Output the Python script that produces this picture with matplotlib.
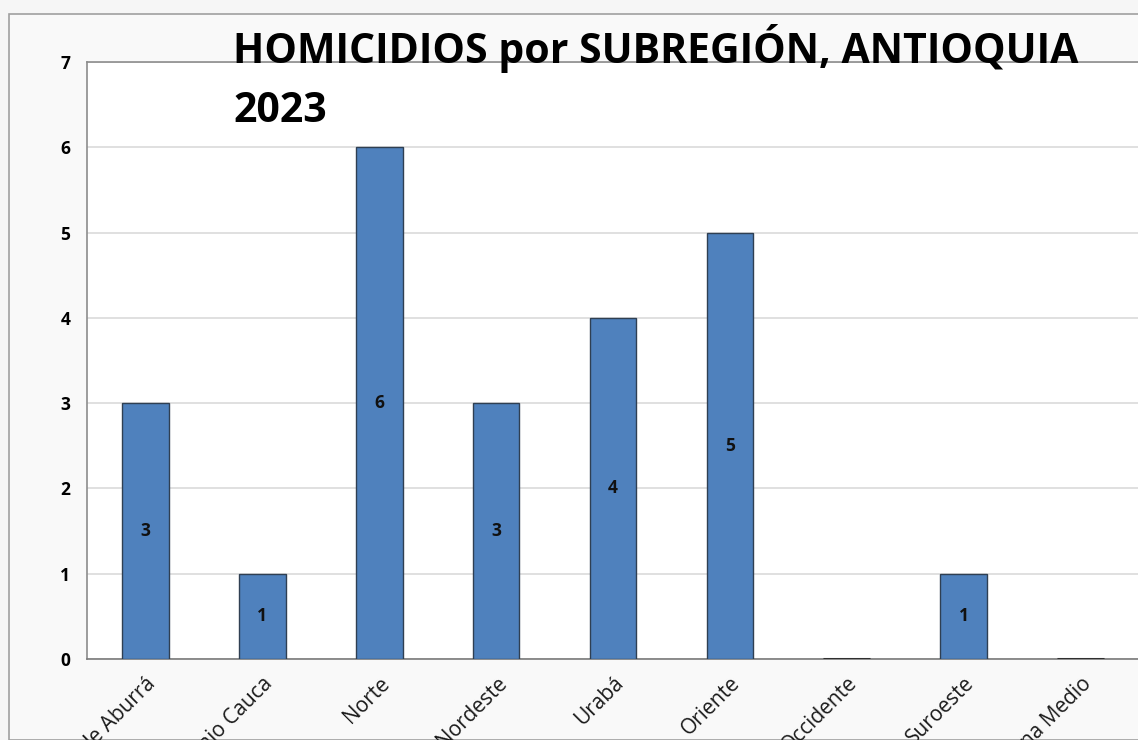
import matplotlib
matplotlib.use("Agg")
import matplotlib.pyplot as plt
from matplotlib.patches import Rectangle

# Homicidios por subregión, Antioquia 2023
subregiones = ["Valle de Aburrá", "Bajo Cauca", "Norte", "Nordeste", "Urabá",
               "Oriente", "Occidente", "Suroeste", "Magdalena Medio"]
homicidios = [3, 1, 6, 3, 4, 5, 0, 1, 0]
y_ticks = [0, 1, 2, 3, 4, 5, 6, 7]

W, H = 1138, 740
fig = plt.figure(figsize=(W / 100, H / 100), dpi=100)
fig.patch.set_facecolor("#f6f6f6")

# chart-area frame
frame = Rectangle((9 / W, 0), 1.0, 1 - 14 / H, transform=fig.transFigure,
                  facecolor="#f9f9f9", edgecolor="#a0a0a0", linewidth=1.2,
                  zorder=-5)
fig.patches.append(frame)

left, right = 87 / W, 1139 / W
bottom, top = 1 - 659 / H, 1 - 62 / H
ax = fig.add_axes([left, bottom, right - left, top - bottom])
ax.set_zorder(2)
ax.set_facecolor("white")

x = list(range(len(subregiones)))
bars = ax.bar(x, homicidios, width=0.4, color="#4f81bd", edgecolor="#2f3f52",
              linewidth=1.0, zorder=3)
for xi, v in zip(x, homicidios):
    if v > 0:
        ax.text(xi, v / 2, str(v), ha="center", va="center", fontsize=12.5,
                fontweight="bold", family="Open Sans", color="#111111", zorder=4)
    else:
        ax.plot([xi - 0.2, xi + 0.2], [0, 0], color="#2f2f2f", linewidth=2.2,
                zorder=4, solid_capstyle="butt")

ax.set_xlim(-0.5, len(subregiones) - 0.5)
ax.set_ylim(0, 7)
ax.set_yticks(y_ticks)
ax.set_yticklabels([str(t) for t in y_ticks], fontsize=12.5, fontweight="bold",
                   family="Open Sans")
ax.yaxis.grid(True, color="#dadada", linewidth=1.2, zorder=0)
ax.set_axisbelow(True)
ax.tick_params(axis="y", length=0, pad=12)
ax.tick_params(axis="x", length=0, pad=10)

ax.set_xticks(x)
ax.set_xticklabels(subregiones, rotation=45, ha="right", rotation_mode="anchor",
                   fontsize=15, family="Open Sans", color="#1a1a1a")

for s in ["top", "right", "left", "bottom"]:
    ax.spines[s].set_color("#8c8c8c")
    ax.spines[s].set_linewidth(1.2)
ax.spines["bottom"].set_color("#7a7a7a")

title_kw = dict(fontsize=29.5, fontweight="bold", family="Open Sans", ha="left",
                va="baseline", color="black", zorder=10)
t1 = fig.text(233 / W, 1 - 63 / H, "HOMICIDIOS por SUBREGIÓN, ANTIOQUIA", **title_kw)
t2 = fig.text(233 / W, 1 - 122 / H, "2023", **title_kw)

fig.savefig("out.png", dpi=100, facecolor=fig.get_facecolor())
